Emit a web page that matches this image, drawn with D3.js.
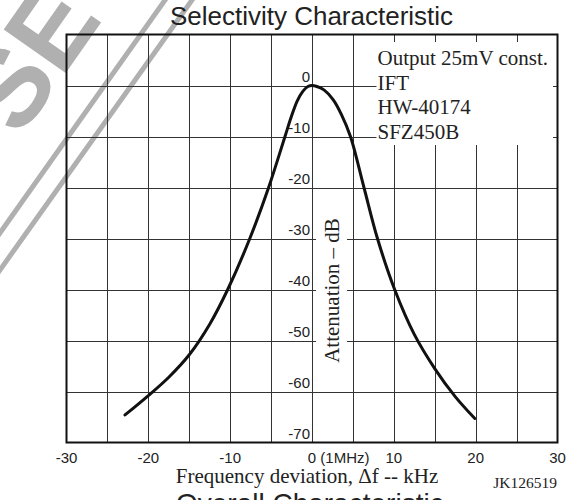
<!DOCTYPE html>
<html>
<head>
<meta charset="utf-8">
<script src="https://cdn.jsdelivr.net/npm/d3@7"></script>
<style>
  body { margin: 0; background: #fff; }
  svg { display: block; }
</style>
</head>
<body>
<div id="chart"></div>
<script>
// values
var freqKHz = [-22.85, -20, -17.5, -15, -12.5, -10.3, -7.6, -5.3, -3.3, -2.5, -1.8, -1.1, -0.5, 0,
               0.6, 1.5, 2.6, 3.6, 4.7, 6.35, 8, 10.1, 12.5, 15, 17.5, 19.9];
var attenDB = [-64.6, -60.8, -57.2, -52.8, -46.8, -40, -30, -20, -10, -6.0, -3.0, -1.1, -0.2, 0,
               -0.2, -0.9, -2.8, -5.7, -10, -20, -30, -40, -48.8, -55.5, -61, -65.3];

var xTicks = [-30, -20, -10, 0, 10, 20, 30];
var xTickLabels = ["-30", "-20", "-10", "0 (1MHz)", "10", "20", "30"];
var yTicks = [0, -10, -20, -30, -40, -50, -60, -70];
var legendLines = ["Output 25mV const.", "IFT", "HW-40174", "SFZ450B"];

var titleText = "Selectivity Characteristic";
var nextTitleText = "Overall Characteristic";
var xTitle = "Frequency deviation, \u0394f -- kHz";
var yTitle = "Attenuation \u2013 dB";
var docCode = "JK126519";

function drawSelectivity(id){
  var width = 577, height = 500;
  var left = 66.5, right = 557.5, top = 34.5, bottom = 442.5;
  var sans = "'Liberation Sans', Arial, sans-serif";
  var serif = "'Liberation Serif', 'Times New Roman', serif";

  var div = d3.select(id);
  div.select("svg").remove();

  var svg = div.append("svg")
    .attr("width", width)
    .attr("height", height);

  var xScale = d3.scaleLinear().domain([-30, 30]).range([left, right]);
  var yScale = d3.scaleLinear().domain([10, -70]).range([top, bottom]);

  // faint watermark left over from the scanned sheet
  var wm = svg.append("g").attr("fill", "none").attr("stroke", "#b0b0b0").attr("stroke-width", 5);
  wm.append("line").attr("x1", -10).attr("y1", 247).attr("x2", 175).attr("y2", -14);
  wm.append("line").attr("x1", -10).attr("y1", 284).attr("x2", 202).attr("y2", -14);
  svg.append("text")
    .attr("transform", "translate(30,57) rotate(-55)")
    .attr("text-anchor", "middle")
    .attr("dominant-baseline", "central")
    .style("font-family", sans)
    .style("font-weight", "bold")
    .style("font-size", "110px")
    .attr("fill", "#b0b0b0")
    .text("SE");

  // grid
  var grid = svg.append("g").attr("stroke", "#333").attr("stroke-width", 1);
  grid.selectAll(".vx")
    .data(xScale.ticks(12).filter(function(d){ return d > -30 && d < 30; }))
    .enter().append("line")
      .attr("x1", function(d){ return Math.round(xScale(d)) + 0.5; })
      .attr("x2", function(d){ return Math.round(xScale(d)) + 0.5; })
      .attr("y1", top).attr("y2", bottom);
  grid.selectAll(".hy")
    .data(yScale.ticks(8).filter(function(d){ return d < 10 && d > -70; }))
    .enter().append("line")
      .attr("y1", function(d){ return Math.round(yScale(d)) + 0.5; })
      .attr("y2", function(d){ return Math.round(yScale(d)) + 0.5; })
      .attr("x1", left).attr("x2", right);

  // white box behind the legend text
  svg.append("rect")
    .attr("x", 376.5).attr("y", 42)
    .attr("width", 176.5).attr("height", 103)
    .attr("fill", "#fff");

  legendLines.forEach(function(t, i){
    svg.append("text")
      .attr("x", 377.5)
      .attr("y", 65 + i * 24.7)
      .style("font-family", serif)
      .style("font-size", "21px")
      .attr("fill", "#222")
      .text(t);
  });

  // y axis title with knocked-out background
  var yt = svg.append("g")
    .attr("transform", "translate(" + 339 + "," + 290.5 + ") rotate(-90)");
  yt.append("rect")
    .attr("x", -80).attr("y", -23)
    .attr("width", 160).attr("height", 31)
    .attr("fill", "#fff");
  yt.append("text")
    .attr("text-anchor", "middle")
    .style("font-family", serif)
    .style("font-size", "21px")
    .attr("fill", "#222")
    .text(yTitle);

  // y tick labels sit left of the centre line, just above each grid line
  svg.append("g").selectAll("text")
    .data(yTicks)
    .enter().append("text")
      .attr("x", xScale(0) - 2)
      .attr("y", function(d){ return yScale(d) - 4; })
      .attr("text-anchor", "end")
      .style("font-family", sans)
      .style("font-size", "15px")
      .attr("fill", "#222")
      .text(function(d){ return d; });

  // frame
  svg.append("rect")
    .attr("x", left).attr("y", top)
    .attr("width", right - left).attr("height", bottom - top)
    .attr("fill", "none")
    .attr("stroke", "#111")
    .attr("stroke-width", 2);

  // curve
  var pts = freqKHz.map(function(f, i){ return [f, attenDB[i]]; });
  var line = d3.line()
    .x(function(d){ return xScale(d[0]); })
    .y(function(d){ return yScale(d[1]); })
    .curve(d3.curveCatmullRom.alpha(0.5));
  svg.append("path")
    .datum(pts)
    .attr("d", line)
    .attr("fill", "none")
    .attr("stroke", "#111")
    .attr("stroke-width", 3)
    .attr("stroke-linecap", "round");

  // x tick labels
  svg.append("g").selectAll("text")
    .data(xTicks)
    .enter().append("text")
      .attr("x", function(d, i){ return d === 0 ? xScale(d) - 4.2 : xScale(d); })
      .attr("y", bottom + 20)
      .attr("text-anchor", function(d){ return d === 0 ? "start" : "middle"; })
      .style("font-family", sans)
      .style("font-size", "15px")
      .attr("fill", "#222")
      .text(function(d, i){ return xTickLabels[i]; });

  svg.append("text")
    .attr("x", 307).attr("y", 483)
    .attr("text-anchor", "middle")
    .style("font-family", serif)
    .style("font-size", "21px")
    .attr("fill", "#222")
    .text(xTitle);

  svg.append("text")
    .attr("x", 557).attr("y", 488)
    .attr("text-anchor", "end")
    .style("font-family", serif)
    .style("font-size", "15.5px")
    .attr("fill", "#222")
    .text(docCode);

  svg.append("text")
    .attr("x", 311.5).attr("y", 25)
    .attr("text-anchor", "middle")
    .style("font-family", sans)
    .style("font-size", "26px")
    .attr("fill", "#222")
    .text(titleText);

  // heading of the next plot, cut off by the page edge
  svg.append("text")
    .attr("x", 176).attr("y", 513)
    .attr("text-anchor", "start")
    .style("font-family", sans)
    .style("font-size", "28px")
    .attr("fill", "#222")
    .text(nextTitleText);
}

drawSelectivity("#chart");
</script>
</body>
</html>
